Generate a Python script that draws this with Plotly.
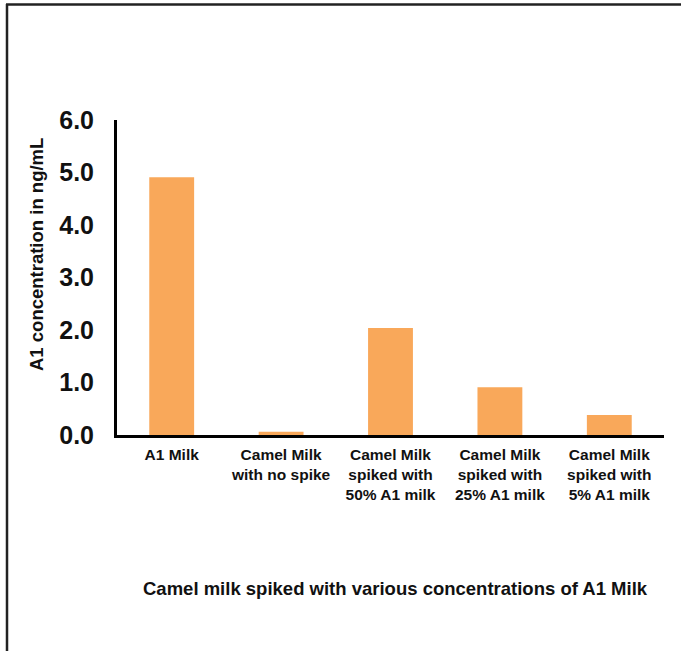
import plotly.graph_objects as go

categories = ["A1 Milk", "Camel Milk<br>with no spike", "Camel Milk<br>spiked with<br>50% A1 milk",
              "Camel Milk<br>spiked with<br>25% A1 milk", "Camel Milk<br>spiked with<br>5% A1 milk"]
values = [4.91, 0.06, 2.04, 0.91, 0.38]
y_ticks = [0, 1, 2, 3, 4, 5, 6]
x_title = "Camel milk spiked with various concentrations of A1 Milk"
y_title = "A1 concentration in ng/mL"

W, H = 681, 651
L, R, T, B = 117, 17, 120, 216
pw, ph = W - L - R, H - T - B

def px_x(p):
    return (p - L) / pw

def px_y(p):
    return (H - B - p) / ph

FONT = "Liberation Sans, Arial, sans-serif"

fig = go.Figure(go.Bar(
    x=categories, y=values, marker_color="#F9A85A", marker_line_width=0, width=0.41,
))

fig.update_layout(
    width=W, height=H, margin=dict(l=L, r=R, t=T, b=B),
    paper_bgcolor="white", plot_bgcolor="white", showlegend=False,
    font=dict(family=FONT, color="black"),
)
fig.update_xaxes(
    showline=True, linecolor="black", linewidth=3, showgrid=False, zeroline=False,
    ticks="", tickfont=dict(size=15.5, weight="bold", family=FONT, color="#111"),
    ticklabelstandoff=3, tickangle=0,
)
fig.update_yaxes(
    range=[0, 6], tickvals=y_ticks, tickformat=".1f",
    showline=True, linecolor="black", linewidth=3, showgrid=False, zeroline=False,
    ticks="", tickfont=dict(size=25, weight="bold", family=FONT, color="#111"),
    ticklabelstandoff=15,
)

fig.add_annotation(text=x_title, xref="paper", yref="paper", x=px_x(395), y=px_y(588),
                   showarrow=False, font=dict(size=18.5, weight="bold", family=FONT, color="#111"),
                   xanchor="center", yanchor="middle")
fig.add_annotation(text=y_title, xref="paper", yref="paper", x=px_x(36), y=px_y(255),
                   showarrow=False, textangle=-90,
                   font=dict(size=18.5, weight="bold", family=FONT, color="#111"),
                   xanchor="center", yanchor="middle")

# outer frame (left and top edges)
fig.add_shape(type="line", xref="paper", yref="paper", x0=px_x(7), x1=px_x(7),
              y0=px_y(4), y1=px_y(660), line=dict(color="#222", width=2.5))
fig.add_shape(type="line", xref="paper", yref="paper", x0=px_x(6), x1=px_x(690),
              y0=px_y(4.5), y1=px_y(4.5), line=dict(color="#222", width=2.5))

fig.write_html("out.html", config={"displayModeBar": False},
               post_script="document.body.style.margin='0';")
